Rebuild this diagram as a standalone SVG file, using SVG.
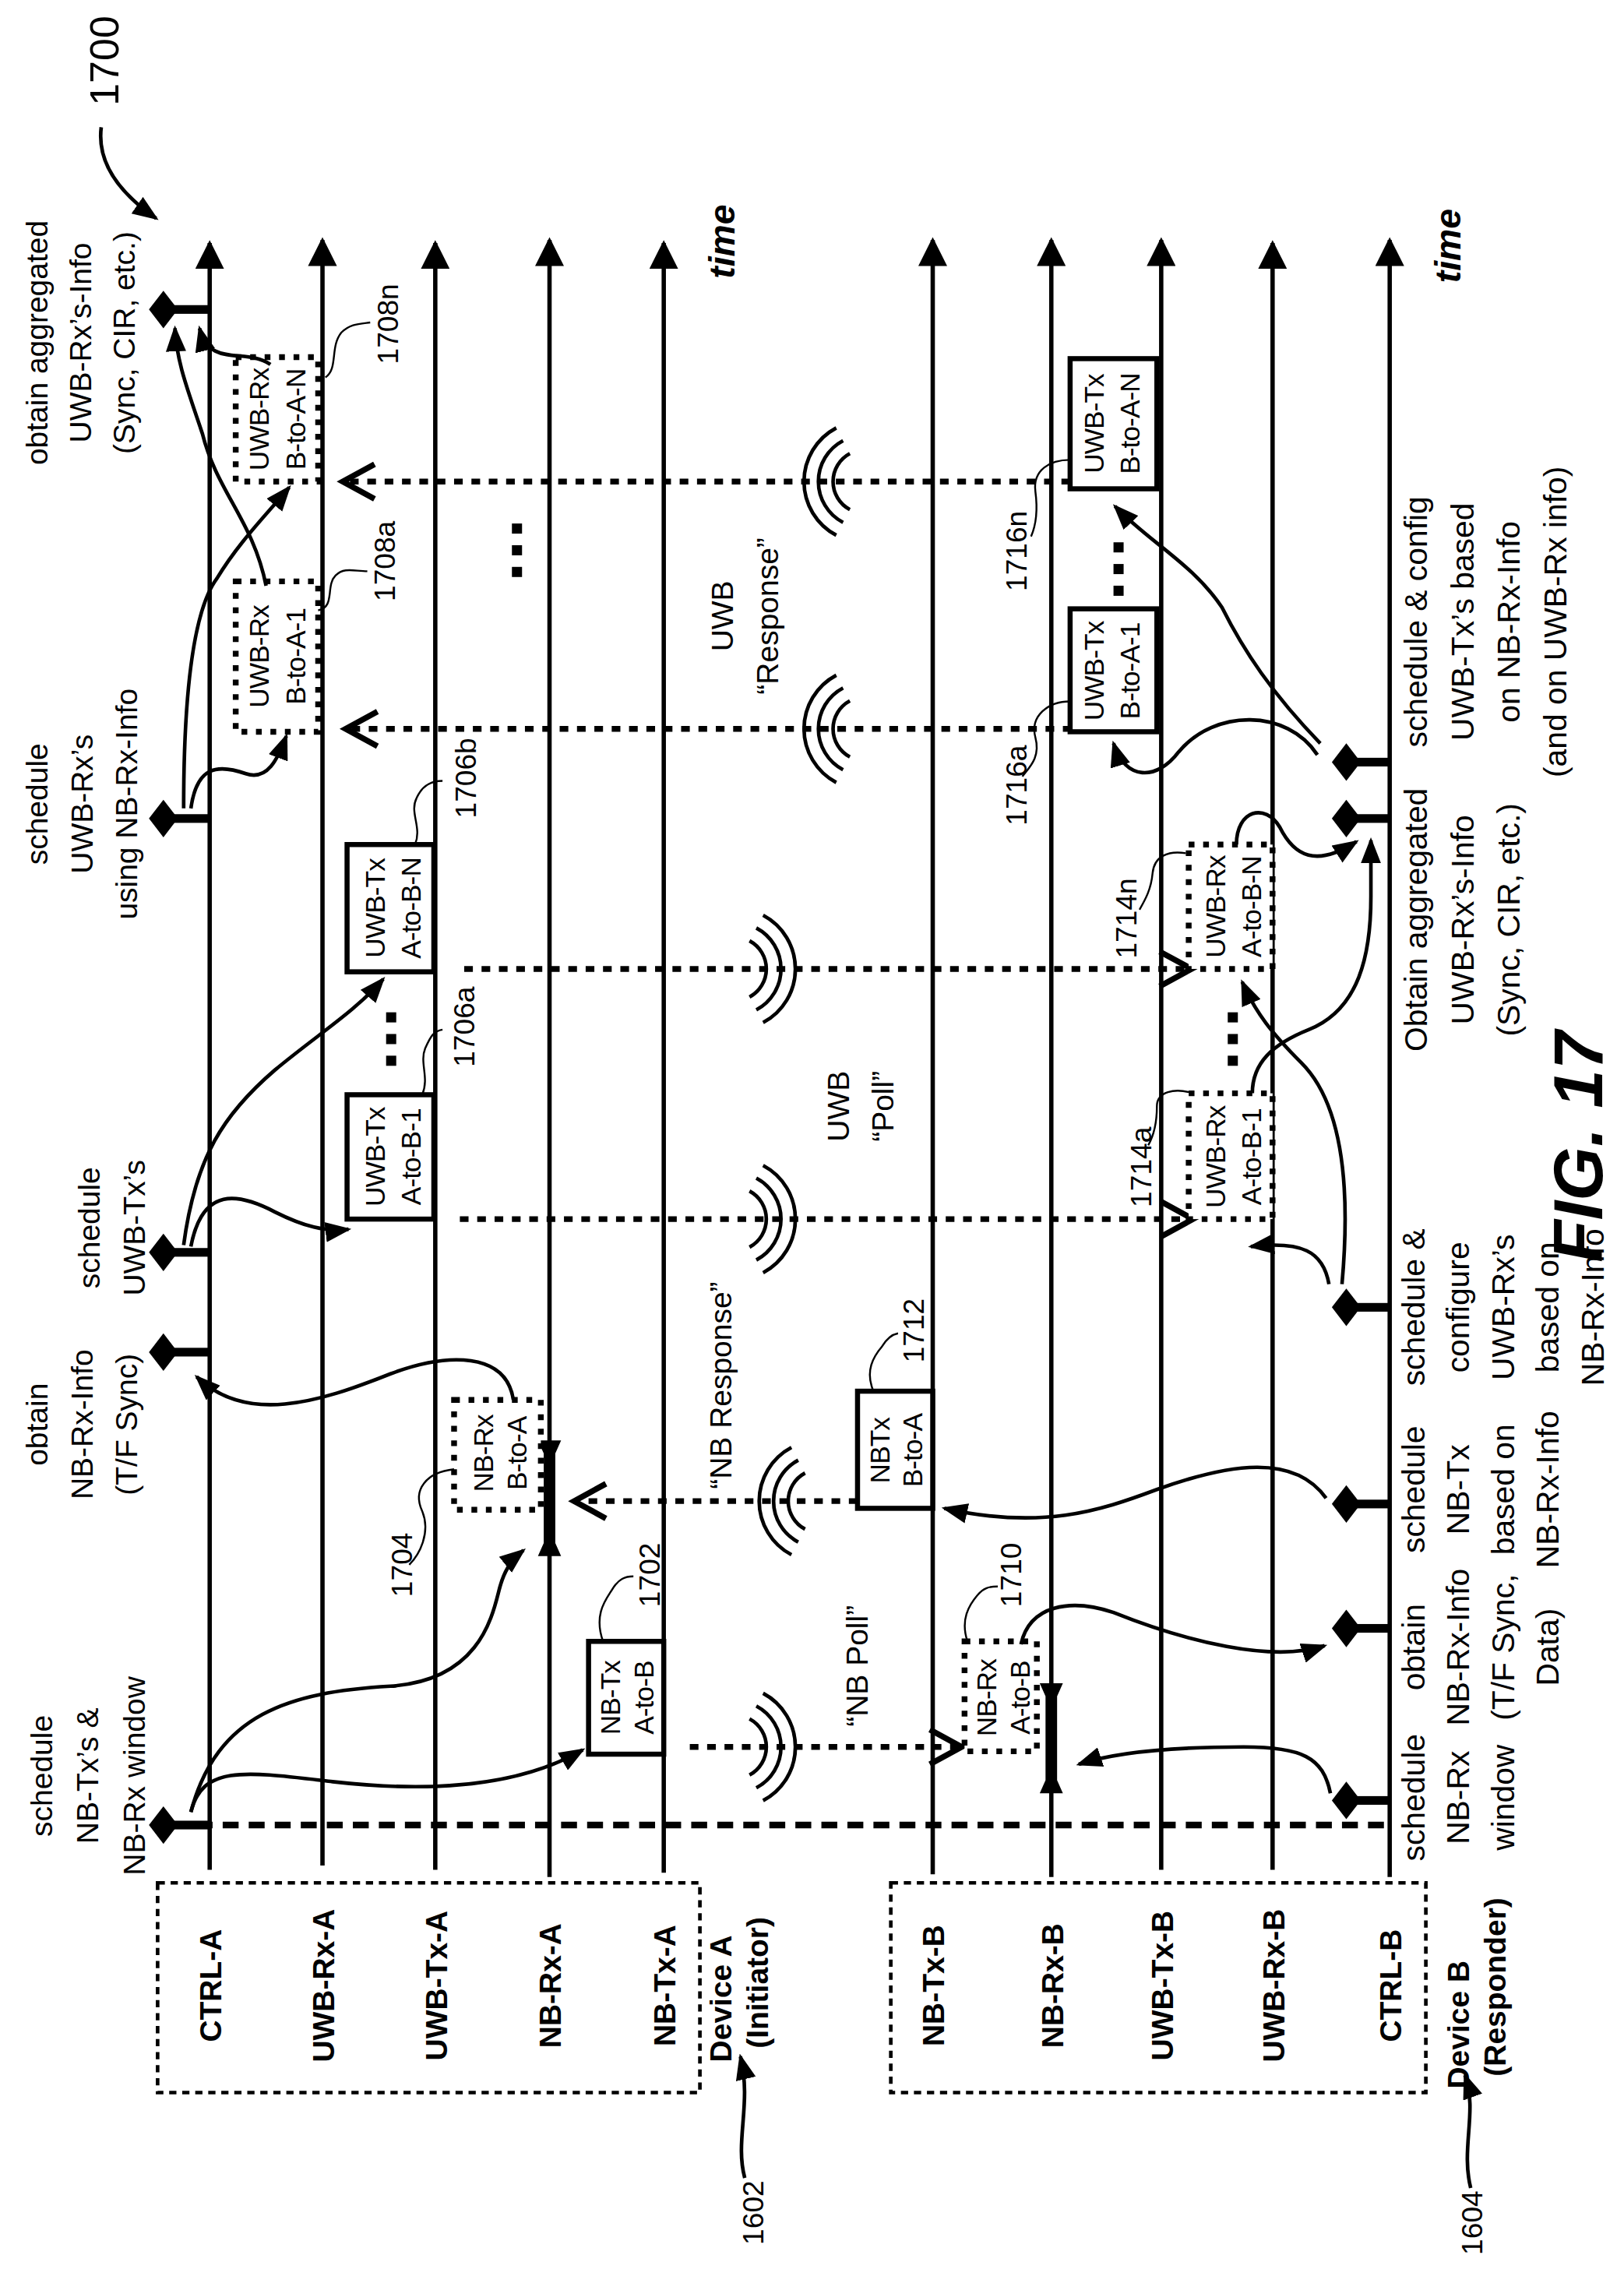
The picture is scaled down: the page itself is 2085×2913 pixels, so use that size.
<svg xmlns="http://www.w3.org/2000/svg" width="2085" height="2913" viewBox="0 0 2085 2913">
<style>
.tl{stroke:#000;stroke-width:3;fill:none}
.t{font-family:"Liberation Sans",Arial,sans-serif;font-size:21px;fill:#000}
.tb{font-family:"Liberation Sans",Arial,sans-serif;font-size:22px;fill:#000}
.bx{font-family:"Liberation Sans",Arial,sans-serif;font-size:19px;fill:#000;letter-spacing:-0.5px}
.num{font-family:"Liberation Sans",Arial,sans-serif;font-size:20px;fill:#000}
.lab{font-family:"Liberation Sans",Arial,sans-serif;font-size:21px;font-weight:bold;fill:#000}
.bi{font-family:"Liberation Sans",Arial,sans-serif;font-weight:bold;font-style:italic;fill:#000}
.sb{fill:#fff;stroke:#000;stroke-width:3.5}
.db{fill:#fff;stroke:#000;stroke-width:4;stroke-dasharray:4 6}
.dl{stroke:#000;stroke-width:4;fill:none;stroke-dasharray:6 6}
.cv{stroke:#000;stroke-width:2.5;fill:none;marker-end:url(#ah)}
.ld{stroke:#000;stroke-width:1.3;fill:none}
.ch{stroke:#000;stroke-width:4;fill:none}
.wv{stroke:#000;stroke-width:2.5;fill:none}
</style>
<defs>
<marker id="ah" markerUnits="userSpaceOnUse" markerWidth="18" markerHeight="14" refX="16" refY="7" orient="auto"><path d="M0,0 L18,7 L0,14 Z" fill="#000"/></marker>
<marker id="top" markerUnits="userSpaceOnUse" markerWidth="20" markerHeight="20" refX="18" refY="10" orient="auto"><path d="M0,0 L20,10 L0,20 Z" fill="#000"/></marker>
<path id="wave" d="M10.3,-19.4 A22,22 0 0 1 10.3,19.4 M15,-28.3 A32,32 0 0 1 15,28.3 M19.7,-37.1 A42,42 0 0 1 19.7,37.1"/>
<path id="dia" d="M-10,0 L0,-13 L10,0 L0,13 Z"/>
</defs>
<g transform="scale(1.8566)">
<g id="timelines">
<path class="tl" marker-end="url(#top)" d="M145,1293 V168"/>
<path class="tl" marker-end="url(#top)" d="M223,1290 V166"/>
<path class="tl" marker-end="url(#top)" d="M301,1293 V168"/>
<path class="tl" marker-end="url(#top)" d="M380,1298 V166"/>
<path class="tl" marker-end="url(#top)" d="M459,1295 V168"/>
<path class="tl" marker-end="url(#top)" d="M645,1296 V166"/>
<path class="tl" marker-end="url(#top)" d="M727,1298 V166"/>
<path class="tl" marker-end="url(#top)" d="M803,1293 V166"/>
<path class="tl" marker-end="url(#top)" d="M880,1293 V168"/>
<path class="tl" marker-end="url(#top)" d="M961,1298 V166"/>
<path d="M118,1262 H962" stroke="#000" stroke-width="4.5" stroke-dasharray="11 7" fill="none"/>
</g>
<g id="deviceA">
<rect x="109" y="1302" width="375" height="145" fill="none" stroke="#000" stroke-width="2.5" stroke-dasharray="5 4"/>
<text class="lab" text-anchor="middle" transform="translate(153,1373) rotate(-90)">CTRL-A</text>
<text class="lab" text-anchor="middle" transform="translate(231,1373) rotate(-90)">UWB-Rx-A</text>
<text class="lab" text-anchor="middle" transform="translate(309,1373) rotate(-90)">UWB-Tx-A</text>
<text class="lab" text-anchor="middle" transform="translate(388,1373) rotate(-90)">NB-Rx-A</text>
<text class="lab" text-anchor="middle" transform="translate(467,1373) rotate(-90)">NB-Tx-A</text>
<text class="lab" text-anchor="middle" transform="translate(506,1382) rotate(-90)">Device A</text>
<text class="lab" text-anchor="middle" transform="translate(531,1371) rotate(-90)">(Initiator)</text>
</g>
<g id="deviceB">
<rect x="616" y="1302" width="370" height="145" fill="none" stroke="#000" stroke-width="2.5" stroke-dasharray="5 4"/>
<text class="lab" text-anchor="middle" transform="translate(653,1373) rotate(-90)">NB-Tx-B</text>
<text class="lab" text-anchor="middle" transform="translate(735,1373) rotate(-90)">NB-Rx-B</text>
<text class="lab" text-anchor="middle" transform="translate(811,1373) rotate(-90)">UWB-Tx-B</text>
<text class="lab" text-anchor="middle" transform="translate(888,1373) rotate(-90)">UWB-Rx-B</text>
<text class="lab" text-anchor="middle" transform="translate(969,1373) rotate(-90)">CTRL-B</text>
<text class="lab" text-anchor="middle" transform="translate(1016,1400) rotate(-90)">Device B</text>
<text class="lab" text-anchor="middle" transform="translate(1041,1374) rotate(-90)">(Responder)</text>
</g>
<g id="refs">
<text class="num" text-anchor="middle" transform="translate(82,42) rotate(-90)" style="font-size:28px">1700</text>
<path class="cv" d="M70,88 C67,112 82,133 108,151"/>
<text class="num" text-anchor="middle" transform="translate(528,1530) rotate(-90)">1602</text>
<path class="cv" d="M515,1506 C508,1480 520,1455 512,1422"/>
<text class="num" text-anchor="middle" transform="translate(1025,1537) rotate(-90)">1604</text>
<path class="cv" d="M1017,1513 C1010,1485 1022,1460 1013,1435"/>
<text class="bi" text-anchor="middle" style="font-size:25px" transform="translate(508,167) rotate(-90)">time</text>
<text class="bi" text-anchor="middle" style="font-size:25px" transform="translate(1010,170) rotate(-90)">time</text>
<text class="bi" text-anchor="middle" style="font-size:48px" transform="translate(1108,793) rotate(-90)">FIG. 17</text>
</g>
<g id="ctrlA-events">
<g fill="#000">
<use href="#dia" x="113" y="214"/><rect x="120" y="211" width="25" height="6"/>
<use href="#dia" x="113" y="566"/><rect x="120" y="563" width="25" height="6"/>
<use href="#dia" x="113" y="866"/><rect x="120" y="863" width="25" height="6"/>
<use href="#dia" x="113" y="935"/><rect x="120" y="932" width="25" height="6"/>
<use href="#dia" x="113" y="1262"/><rect x="120" y="1259" width="25" height="6"/>
</g>
<text class="t" text-anchor="middle" transform="translate(36,1228) rotate(-90)"><tspan x="0">schedule</tspan><tspan x="0" dy="32">NB-Tx’s &amp;</tspan><tspan x="0" dy="32">NB-Rx window</tspan></text>
<text class="t" text-anchor="middle" transform="translate(33,985) rotate(-90)"><tspan x="0">obtain</tspan><tspan x="0" dy="31">NB-Rx-Info</tspan><tspan x="0" dy="31">(T/F Sync)</tspan></text>
<text class="t" text-anchor="middle" transform="translate(69,849) rotate(-90)"><tspan x="0">schedule</tspan><tspan x="0" dy="31">UWB-Tx’s</tspan></text>
<text class="t" text-anchor="middle" transform="translate(33,556) rotate(-90)"><tspan x="0">schedule</tspan><tspan x="0" dy="31">UWB-Rx’s</tspan><tspan x="0" dy="31">using NB-Rx-Info</tspan></text>
<text class="t" text-anchor="middle" transform="translate(33,237) rotate(-90)"><tspan x="0">obtain aggregated</tspan><tspan x="0" dy="30">UWB-Rx’s-Info</tspan><tspan x="0" dy="30">(Sync, CIR, etc.)</tspan></text>
</g>
<g id="ctrlB-events">
<g fill="#000">
<use href="#dia" x="931" y="527"/><rect x="938" y="524" width="23" height="6"/>
<use href="#dia" x="931" y="566"/><rect x="938" y="563" width="23" height="6"/>
<use href="#dia" x="931" y="904"/><rect x="938" y="901" width="23" height="6"/>
<use href="#dia" x="931" y="1040"/><rect x="938" y="1037" width="23" height="6"/>
<use href="#dia" x="931" y="1126"/><rect x="938" y="1123" width="23" height="6"/>
<use href="#dia" x="931" y="1245"/><rect x="938" y="1242" width="23" height="6"/>
</g>
<text class="tb" text-anchor="middle" transform="translate(985,1243) rotate(-90)"><tspan x="0">schedule</tspan><tspan x="0" dy="31">NB-Rx</tspan><tspan x="0" dy="31">window</tspan></text>
<text class="tb" text-anchor="middle" transform="translate(985,1139) rotate(-90)"><tspan x="0">obtain</tspan><tspan x="0" dy="31">NB-Rx-Info</tspan><tspan x="0" dy="31">(T/F Sync,</tspan><tspan x="0" dy="31">Data)</tspan></text>
<text class="tb" text-anchor="middle" transform="translate(985,1030) rotate(-90)"><tspan x="0">schedule</tspan><tspan x="0" dy="31">NB-Tx</tspan><tspan x="0" dy="31">based on</tspan><tspan x="0" dy="31">NB-Rx-Info</tspan></text>
<text class="tb" text-anchor="middle" transform="translate(985,904) rotate(-90)"><tspan x="0">schedule &amp;</tspan><tspan x="0" dy="31">configure</tspan><tspan x="0" dy="31">UWB-Rx’s</tspan><tspan x="0" dy="31">based on</tspan><tspan x="0" dy="31">NB-Rx-Info</tspan></text>
<text class="tb" text-anchor="middle" transform="translate(987,636) rotate(-90)"><tspan x="0">Obtain aggregated</tspan><tspan x="0" dy="32">UWB-Rx’s-Info</tspan><tspan x="0" dy="32">(Sync, CIR, etc.)</tspan></text>
<text class="tb" text-anchor="middle" transform="translate(987,430) rotate(-90)"><tspan x="0">schedule &amp; config</tspan><tspan x="0" dy="32">UWB-Tx’s based</tspan><tspan x="0" dy="32">on NB-Rx-Info</tspan><tspan x="0" dy="32">(and on UWB-Rx info)</tspan></text>
</g>
<g id="signals">
<path class="dl" d="M477,1208 H662"/><path class="ch" d="M643,1196 L665,1208 L643,1220"/>
<path class="dl" d="M593,1038 H400"/><path class="ch" d="M419,1026 L397,1038 L419,1050"/>
<path class="dl" d="M318,843 H822"/><path class="ch" d="M803,831 L825,843 L803,855"/>
<path class="dl" d="M321,670 H822"/><path class="ch" d="M802,658 L824,670 L802,682"/>
<path class="dl" d="M741,504 H242"/><path class="ch" d="M261,492 L239,504 L261,516"/>
<path class="dl" d="M740,333 H240"/><path class="ch" d="M259,321 L237,333 L259,345"/>
<g class="wv">
<use href="#wave" transform="translate(508,1208)"/>
<use href="#wave" transform="translate(567,1038) scale(-1,1)"/>
<use href="#wave" transform="translate(508,843)"/>
<use href="#wave" transform="translate(508,670)"/>
<use href="#wave" transform="translate(598,504) scale(-1,1)"/>
<use href="#wave" transform="translate(598,333) scale(-1,1)"/>
</g>
<text class="t" text-anchor="middle" transform="translate(600,1152) rotate(-90)">“NB Poll”</text>
<text class="t" text-anchor="middle" transform="translate(506,958) rotate(-90)">“NB Response”</text>
<text class="t" text-anchor="middle" transform="translate(587,765) rotate(-90)"><tspan x="0">UWB</tspan><tspan x="0" dy="31">“Poll”</tspan></text>
<text class="t" text-anchor="middle" transform="translate(507,426) rotate(-90)"><tspan x="0">UWB</tspan><tspan x="0" dy="31">“Response”</tspan></text>
</g>
<g id="n1702">
<rect class="sb" x="407" y="1135" width="52" height="78"/>
<text class="bx" text-anchor="middle" transform="translate(429,1174) rotate(-90)"><tspan x="0">NB-Tx</tspan><tspan x="0" dy="23">A-to-B</tspan></text>
<path class="ld" d="M417,1135 C410,1115 420,1105 424,1098 C428,1092 432,1090 438,1090"/>
<text class="num" text-anchor="middle" transform="translate(456,1089) rotate(-90)">1702</text>
</g>
<g id="n1704">
<path fill="#000" d="M372,996 L388,996 L384,1005 L384,1067 L388,1076 L372,1076 L376,1067 L376,1005 Z"/>
<rect class="db" x="314" y="968" width="60" height="76"/>
<text class="bx" text-anchor="middle" transform="translate(341,1005) rotate(-90)"><tspan x="0">NB-Rx</tspan><tspan x="0" dy="23">B-to-A</tspan></text>
<path class="ld" d="M314,1016 C295,1018 285,1030 292,1045 C298,1060 290,1075 283,1082"/>
<text class="num" text-anchor="middle" transform="translate(285,1082) rotate(-90)">1704</text>
</g>
<g id="n1706">
<rect class="sb" x="240" y="757" width="60" height="86"/>
<text class="bx" text-anchor="middle" transform="translate(266,800) rotate(-90)"><tspan x="0">UWB-Tx</tspan><tspan x="0" dy="25">A-to-B-1</tspan></text>
<rect class="sb" x="240" y="584" width="60" height="88"/>
<text class="bx" text-anchor="middle" transform="translate(266,628) rotate(-90)"><tspan x="0">UWB-Tx</tspan><tspan x="0" dy="25">A-to-B-N</tspan></text>
<g fill="#000"><rect x="267" y="700" width="7" height="7"/><rect x="267" y="715" width="7" height="7"/><rect x="267" y="730" width="7" height="7"/></g>
<path class="ld" d="M292,757 C297,745 290,735 294,725 C298,716 300,713 306,712"/>
<text class="num" text-anchor="middle" transform="translate(328,710) rotate(-90)">1706a</text>
<path class="ld" d="M287,584 C292,572 283,562 288,552 C292,543 298,540 306,540"/>
<text class="num" text-anchor="middle" transform="translate(329,538) rotate(-90)">1706b</text>
</g>
<g id="n1708">
<rect class="db" x="163" y="402" width="57" height="104"/>
<text class="bx" text-anchor="middle" transform="translate(186,454) rotate(-90)"><tspan x="0">UWB-Rx</tspan><tspan x="0" dy="25">B-to-A-1</tspan></text>
<rect class="db" x="163" y="247" width="57" height="86"/>
<text class="bx" text-anchor="middle" transform="translate(186,290) rotate(-90)"><tspan x="0">UWB-Rx</tspan><tspan x="0" dy="25">B-to-A-N</tspan></text>
<g fill="#000"><rect x="354" y="362" width="7" height="7"/><rect x="354" y="377" width="7" height="7"/><rect x="354" y="392" width="7" height="7"/></g>
<path class="ld" d="M220,422 C232,420 225,405 232,398 C238,392 245,395 254,395"/>
<text class="num" text-anchor="middle" transform="translate(273,388) rotate(-90)">1708a</text>
<path class="ld" d="M225,261 C234,255 228,240 236,230 C242,224 248,224 256,223"/>
<text class="num" text-anchor="middle" transform="translate(275,224) rotate(-90)">1708n</text>
</g>
<g id="n1710">
<path fill="#000" d="M719,1164 L735,1164 L731,1173 L731,1231 L735,1240 L719,1240 L723,1231 L723,1173 Z"/>
<rect class="db" x="667" y="1135" width="50" height="76"/>
<text class="bx" text-anchor="middle" transform="translate(689,1174) rotate(-90)"><tspan x="0">NB-Rx</tspan><tspan x="0" dy="23">A-to-B</tspan></text>
<path class="ld" d="M669,1135 C664,1120 670,1110 676,1103 C680,1098 684,1097 690,1097"/>
<text class="num" text-anchor="middle" transform="translate(706,1089) rotate(-90)">1710</text>
</g>
<g id="n1712">
<rect class="sb" x="593" y="962" width="52" height="81"/>
<text class="bx" text-anchor="middle" transform="translate(615,1003) rotate(-90)"><tspan x="0">NBTx</tspan><tspan x="0" dy="23">B-to-A</tspan></text>
<path class="ld" d="M604,962 C598,948 604,938 610,931 C613,926 616,923 621,922"/>
<text class="num" text-anchor="middle" transform="translate(639,920) rotate(-90)">1712</text>
</g>
<g id="n1714">
<rect class="db" x="822" y="756" width="58" height="87"/>
<text class="bx" text-anchor="middle" transform="translate(847,800) rotate(-90)"><tspan x="0">UWB-Rx</tspan><tspan x="0" dy="25">A-to-B-1</tspan></text>
<rect class="db" x="822" y="584" width="58" height="86"/>
<text class="bx" text-anchor="middle" transform="translate(847,627) rotate(-90)"><tspan x="0">UWB-Rx</tspan><tspan x="0" dy="25">A-to-B-N</tspan></text>
<g fill="#000"><rect x="849" y="700" width="7" height="7"/><rect x="849" y="715" width="7" height="7"/><rect x="849" y="730" width="7" height="7"/></g>
<path class="ld" d="M825,756 C812,752 800,755 800,765 C800,775 798,785 794,792"/>
<text class="num" text-anchor="middle" transform="translate(796,807) rotate(-90)">1714a</text>
<path class="ld" d="M820,590 C808,588 798,592 797,604 C796,615 792,622 788,629"/>
<text class="num" text-anchor="middle" transform="translate(786,635) rotate(-90)">1714n</text>
</g>
<g id="n1716">
<rect class="sb" x="740" y="421" width="60" height="85"/>
<text class="bx" text-anchor="middle" transform="translate(763,464) rotate(-90)"><tspan x="0">UWB-Tx</tspan><tspan x="0" dy="25">B-to-A-1</tspan></text>
<rect class="sb" x="740" y="248" width="60" height="90"/>
<text class="bx" text-anchor="middle" transform="translate(763,293) rotate(-90)"><tspan x="0">UWB-Tx</tspan><tspan x="0" dy="25">B-to-A-N</tspan></text>
<g fill="#000"><rect x="770" y="375" width="7" height="7"/><rect x="770" y="390" width="7" height="7"/><rect x="770" y="405" width="7" height="7"/></g>
<path class="ld" d="M740,485 C725,485 712,495 716,510 C720,525 710,532 707,537"/>
<text class="num" text-anchor="middle" transform="translate(710,543) rotate(-90)">1716a</text>
<path class="ld" d="M740,318 C726,318 714,325 716,340 C718,355 716,364 713,371"/>
<text class="num" text-anchor="middle" transform="translate(710,381) rotate(-90)">1716n</text>
</g>
<g id="connectors">
<path class="cv" d="M355,968 C350,935 310,935 270,950 C220,970 170,985 136,952"/>
<path class="cv" d="M132,1253 C140,1220 170,1225 230,1232 C300,1240 360,1235 403,1210"/>
<path class="cv" d="M132,1253 C150,1185 200,1170 270,1166 C330,1162 340,1120 345,1100 C348,1088 352,1080 362,1072"/>
<path class="cv" d="M132,862 C140,820 165,825 190,838 C210,848 225,852 241,850"/>
<path class="cv" d="M127,861 C135,800 155,770 190,740 C220,715 245,700 265,677"/>
<path class="cv" d="M127,559 C127,470 135,420 150,400 C165,375 185,355 200,337"/>
<path class="cv" d="M132,559 C136,530 150,528 170,535 C185,540 192,525 198,509"/>
<path class="cv" d="M184,405 C175,360 150,340 140,300 C130,270 122,250 121,227"/>
<path class="cv" d="M187,252 C170,240 145,255 138,227"/>
<path class="cv" d="M920,1240 C915,1215 900,1208 860,1208 C810,1208 770,1212 746,1220"/>
<path class="cv" d="M706,1137 C712,1110 740,1105 770,1115 C820,1135 880,1150 916,1138"/>
<path class="cv" d="M917,1036 C895,1005 850,1012 800,1030 C760,1045 720,1058 653,1043"/>
<path class="cv" d="M919,888 C915,865 900,858 865,862"/>
<path class="cv" d="M928,888 C935,810 925,760 900,735 C880,715 868,700 859,679"/>
<path class="cv" d="M866,756 C866,735 880,722 905,712 C940,698 948,660 948,620 L948,581"/>
<path class="cv" d="M855,584 C855,560 875,555 885,572 C895,592 910,600 938,582"/>
<path class="cv" d="M911,522 C890,490 840,490 815,520 C800,540 778,540 770,514"/>
<path class="cv" d="M913,514 C880,480 860,450 845,420 C825,390 795,375 771,350"/>
</g>
</g>
</svg>
